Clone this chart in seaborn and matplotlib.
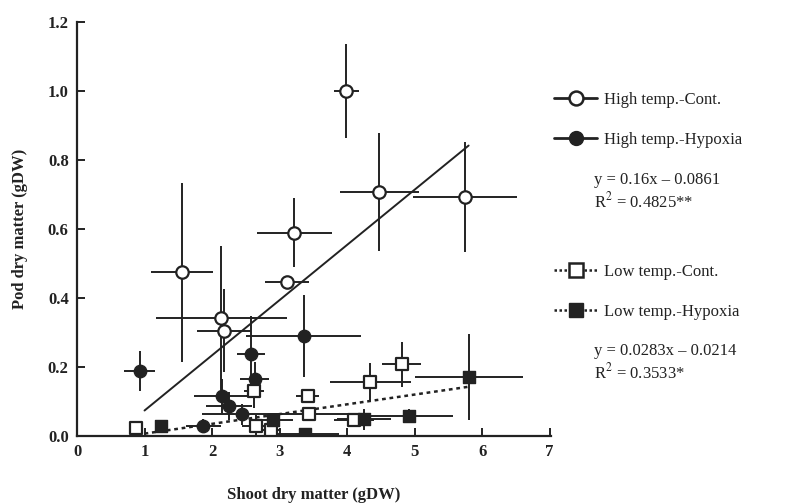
import matplotlib
matplotlib.use("Agg")
import matplotlib.pyplot as plt
import seaborn as sns
import numpy as np
import pandas as pd
from matplotlib.lines import Line2D

# ---------------- data ----------------
# High temp. - Control (open circles)
hc_x = [1.55, 2.14, 2.18, 3.11, 3.22, 3.99, 4.48, 5.75]
hc_y = [0.474, 0.342, 0.305, 0.445, 0.589, 1.000, 0.707, 0.692]
hc_xerr = [0.46, 0.97, 0.40, 0.33, 0.56, 0.18, 0.58, 0.77]
hc_yerr = [0.26, 0.21, 0.12, 0.00, 0.10, 0.135, 0.17, 0.16]

# High temp. - Hypoxia (filled circles)
hh_x = [0.93, 1.87, 2.15, 2.25, 2.45, 2.58, 2.63, 3.36]
hh_y = [0.189, 0.029, 0.116, 0.087, 0.063, 0.237, 0.165, 0.290]
hh_xerr = [0.23, 0.26, 0.42, 0.34, 0.60, 0.21, 0.22, 0.85]
hh_yerr = [0.058, 0.02, 0.05, 0.04, 0.03, 0.11, 0.05, 0.12]

# Low temp. - Control (open squares)
lc_x = [0.87, 2.62, 2.65, 2.87, 3.42, 3.43, 4.10, 4.34, 4.81]
lc_y = [0.024, 0.130, 0.030, 0.017, 0.116, 0.065, 0.045, 0.157, 0.208]
lc_xerr = [0.10, 0.15, 0.20, 0.15, 0.17, 0.60, 0.30, 0.60, 0.29]
lc_yerr = [0.00, 0.05, 0.03, 0.02, 0.00, 0.00, 0.00, 0.055, 0.065]

# Low temp. - Hypoxia (filled squares)
lh_x = [1.25, 2.90, 3.38, 4.25, 4.92, 5.81]
lh_y = [0.029, 0.045, 0.005, 0.048, 0.058, 0.171]
lh_xerr = [0.10, 0.30, 0.50, 0.40, 0.65, 0.80]
lh_yerr = [0.01, 0.02, 0.00, 0.03, 0.02, 0.125]

# regressions
high_slope, high_icpt = 0.16, -0.0861
low_slope, low_icpt = 0.0283, -0.0214
reg_x = [1.0, 5.8]

x_ticks = [0, 1, 2, 3, 4, 5, 6, 7]
y_ticks = [0.0, 0.2, 0.4, 0.6, 0.8, 1.0, 1.2]

# ---------------- style ----------------
sns.set_theme(style="ticks")
plt.rcParams['font.family'] = ['Liberation Serif', 'DejaVu Serif']
plt.rcParams['mathtext.fontset'] = 'stix'
ink = "#222222"

fig = plt.figure(figsize=(7.87, 5.04), dpi=100)
ax = fig.add_axes([77/787, 1-436/504, (551-77)/787, (436-22)/504])

eb_kw = dict(fmt='none', ecolor=ink, elinewidth=1.4, capsize=0, zorder=2)
for xs, ys, xe, ye in [(hc_x, hc_y, hc_xerr, hc_yerr), (hh_x, hh_y, hh_xerr, hh_yerr),
                       (lc_x, lc_y, lc_xerr, lc_yerr), (lh_x, lh_y, lh_xerr, lh_yerr)]:
    ax.errorbar(xs, ys, xerr=xe, yerr=ye, **eb_kw)

# regression lines
reg_df = pd.DataFrame({
    "x": reg_x + reg_x,
    "y": [high_slope*v + high_icpt for v in reg_x] + [low_slope*v + low_icpt for v in reg_x],
    "grp": ["high", "high", "low", "low"],
})
sns.lineplot(data=reg_df[reg_df.grp == "high"], x="x", y="y", ax=ax, color=ink, lw=1.4, zorder=1)
ax.plot(reg_x, [low_slope*v + low_icpt for v in reg_x], color=ink, lw=1.8,
        linestyle=(0, (1.5, 1.5)), zorder=1)

ms = 80
sns.scatterplot(x=hc_x, y=hc_y, ax=ax, marker='o', s=ms, facecolor='white', edgecolor=ink, linewidth=1.6, zorder=3)
sns.scatterplot(x=hh_x, y=hh_y, ax=ax, marker='o', s=ms, color=ink, edgecolor=ink, linewidth=1.0, zorder=3)
sns.scatterplot(x=lc_x, y=lc_y, ax=ax, marker='s', s=ms, facecolor='white', edgecolor=ink, linewidth=1.6, zorder=3)
sns.scatterplot(x=lh_x, y=lh_y, ax=ax, marker='s', s=ms, color=ink, edgecolor=ink, linewidth=1.0, zorder=3)

ax.set_xlim(0, 7.02)
ax.set_ylim(0, 1.2)
ax.set_xticks(x_ticks)
ax.set_yticks(y_ticks)
ax.set_xticklabels([str(t) for t in x_ticks])
ax.set_yticklabels([f"{t:.1f}" for t in y_ticks])
ax.tick_params(direction='in', length=6, width=1.4, colors=ink, labelsize=12, pad=6)
for lab in ax.get_xticklabels() + ax.get_yticklabels():
    lab.set_fontweight('bold')
sns.despine(ax=ax)
for sp in ['left', 'bottom']:
    ax.spines[sp].set_linewidth(1.6)
    ax.spines[sp].set_color(ink)
ax.set_xlabel("Shoot dry matter (gDW)", fontsize=12, fontweight='bold', color=ink, labelpad=19)
ax.set_ylabel("Pod dry matter (gDW)", fontsize=12, fontweight='bold', color=ink, labelpad=14)

# legends
h1 = [Line2D([], [], color=ink, lw=2.0, marker='o', ms=10, mfc='white', mec=ink, mew=1.8),
      Line2D([], [], color=ink, lw=2.0, marker='o', ms=10, mfc=ink, mec=ink)]
leg1 = fig.legend(h1, ["High temp.-Cont.", "High temp.-Hypoxia"], loc='upper left',
                  bbox_to_anchor=(539/787, 1-77/504), frameon=False, fontsize=12,
                  handlelength=2.6, handletextpad=0.4, labelspacing=1.45, labelcolor=ink)
h2 = [Line2D([], [], color=ink, lw=1.8, linestyle=(0, (1, 1)), marker='s', ms=10, mfc='white', mec=ink, mew=1.8),
      Line2D([], [], color=ink, lw=1.8, linestyle=(0, (1, 1)), marker='s', ms=10, mfc=ink, mec=ink)]
leg2 = fig.legend(h2, ["Low temp.-Cont.", "Low temp.-Hypoxia"], loc='upper left',
                  bbox_to_anchor=(539/787, 1-249/504), frameon=False, fontsize=12,
                  handlelength=2.6, handletextpad=0.4, labelspacing=1.45, labelcolor=ink)

fig.text(594/787, 1-180/504, "y = 0.16x \u2013 0.0861", fontsize=12, color=ink, va='center')
fig.text(594/787, 1-201/504, "R$^2$ = 0.4825**", fontsize=12, color=ink, va='center')
fig.text(594/787, 1-351/504, "y = 0.0283x \u2013 0.0214", fontsize=12, color=ink, va='center')
fig.text(594/787, 1-372/504, "R$^2$ = 0.3533*", fontsize=12, color=ink, va='center')

fig.savefig("out.png", dpi=100)
